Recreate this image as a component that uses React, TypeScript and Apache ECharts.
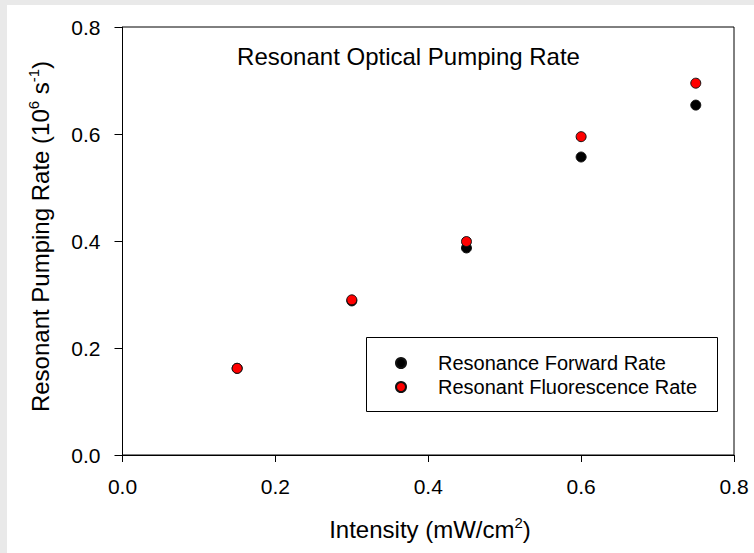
import React, { useEffect, useRef } from "react";
import * as echarts from "echarts";

const intensity = [0.15, 0.3, 0.45, 0.6, 0.75];
const forwardRate = [0.162, 0.288, 0.387, 0.557, 0.654];
const fluorescenceRate = [0.162, 0.29, 0.399, 0.595, 0.695];
const seriesNames = ["Resonance Forward Rate", "Resonant Fluorescence Rate"];
const chartTitle = "Resonant Optical Pumping Rate";

const FONT = '"Liberation Sans", Arial, sans-serif';

export default function App() {
  const ref = useRef<HTMLDivElement>(null);
  useEffect(() => {
    if (!ref.current) return;
    const chart = echarts.init(ref.current, null, { renderer: "svg" });
    const pts = (ys: number[]) => intensity.map((x, i) => [x, ys[i]]);
    chart.setOption({
      animation: false,
      backgroundColor: "#ffffff",
      textStyle: { fontFamily: FONT },
      grid: {
        left: 122.5,
        top: 27,
        right: 20,
        bottom: 98,
        show: true,
        borderColor: "#000",
        borderWidth: 1,
        backgroundColor: "transparent",
      },
      xAxis: {
        type: "value",
        min: 0,
        max: 0.8,
        interval: 0.2,
        axisLine: { show: true, lineStyle: { color: "#000", width: 1 } },
        axisTick: { show: true, inside: false, length: 7, lineStyle: { color: "#000" } },
        splitLine: { show: false },
        axisLabel: {
          color: "#000",
          fontSize: 21,
          fontFamily: FONT,
          margin: 21,
          formatter: (v: number) => v.toFixed(1),
        },
      },
      yAxis: {
        type: "value",
        min: 0,
        max: 0.8,
        interval: 0.2,
        axisLine: { show: true, lineStyle: { color: "#000", width: 1 } },
        axisTick: { show: true, inside: false, length: 8, lineStyle: { color: "#000" } },
        splitLine: { show: false },
        axisLabel: {
          color: "#000",
          fontSize: 21,
          fontFamily: FONT,
          margin: 22,
          formatter: (v: number) => v.toFixed(1),
        },
      },
      legend: {
        orient: "vertical",
        left: 395,
        top: 353,
        padding: 0,
        itemWidth: 64,
        itemHeight: 10,
        itemGap: 4,
        icon: "circle",
        textStyle: { color: "#000", fontSize: 20, fontFamily: FONT, lineHeight: 20 },
        data: seriesNames,
      },
      graphic: [
        { type: "rect", shape: { x: 0, y: 0, width: 754, height: 5 }, style: { fill: "#e9e9e9" }, silent: true },
        { type: "rect", shape: { x: 0, y: 0, width: 7, height: 553 }, style: { fill: "#e9e9e9" }, silent: true },
        {
          type: "rect",
          shape: { x: 366.5, y: 337.5, width: 351, height: 74 },
          style: { fill: "none", stroke: "#000", lineWidth: 1 },
          silent: true,
        },
        {
          type: "text",
          x: 408.5,
          y: 56,
          style: {
            text: chartTitle,
            fill: "#000",
            fontSize: 24,
            fontFamily: FONT,
            align: "center",
            verticalAlign: "middle",
          },
        },
        {
          type: "text",
          x: 430,
          y: 529,
          style: {
            text: "Intensity (mW/cm{sup|2})",
            fill: "#000",
            fontSize: 24,
            fontFamily: FONT,
            align: "center",
            verticalAlign: "middle",
            lineHeight: 28,
            rich: {
              sup: { fontSize: 15, fontFamily: FONT, fill: "#000", verticalAlign: "top", lineHeight: 28 },
            },
          },
        },
        {
          type: "text",
          x: 40,
          y: 236.5,
          rotation: Math.PI / 2,
          style: {
            text: "Resonant Pumping Rate (10{sup|6} s{sup|-1})",
            fill: "#000",
            fontSize: 24,
            fontFamily: FONT,
            align: "center",
            verticalAlign: "middle",
            lineHeight: 28,
            rich: {
              sup: { fontSize: 15, fontFamily: FONT, fill: "#000", verticalAlign: "top", lineHeight: 28 },
            },
          },
        },
      ],
      series: [
        {
          name: seriesNames[0],
          type: "scatter",
          data: pts(forwardRate),
          symbol: "circle",
          symbolSize: 10,
          itemStyle: { color: "#000000", borderColor: "#111", borderWidth: 1, opacity: 1 },
        },
        {
          name: seriesNames[1],
          type: "scatter",
          data: pts(fluorescenceRate),
          symbol: "circle",
          symbolSize: 10,
          itemStyle: { color: "#ff0000", borderColor: "#111", borderWidth: 1, opacity: 1 },
        },
      ],
    });
    return () => chart.dispose();
  }, []);
  return (
    <div style={{ position: "fixed", left: 0, top: 0, width: 754, height: 553 }}>
      <div ref={ref} style={{ width: 754, height: 553 }} />
    </div>
  );
}
